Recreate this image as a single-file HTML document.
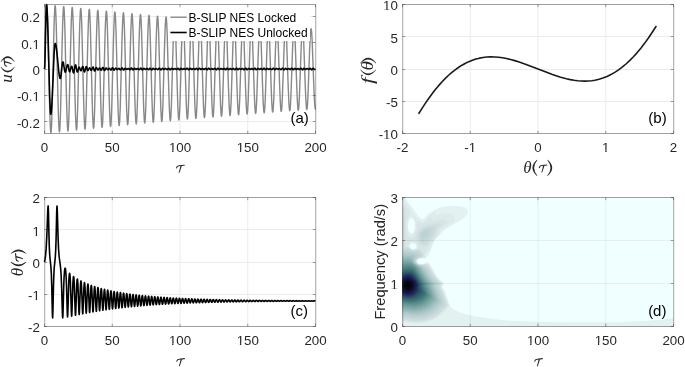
<!DOCTYPE html>
<html><head><meta charset="utf-8"><style>
html,body{margin:0;padding:0;background:#fff;}
svg{display:block;will-change:transform;}
</style></head><body>
<svg width="685" height="367" viewBox="0 0 685 367">
<rect width="685" height="367" fill="#fff"/>
<g font-family="Liberation Sans, sans-serif" font-size="13.33" fill="#262626">
<line x1="112.25" y1="4.5" x2="112.25" y2="133.5" stroke="#ebebeb" stroke-width="1"/>
<line x1="180.00" y1="4.5" x2="180.00" y2="133.5" stroke="#ebebeb" stroke-width="1"/>
<line x1="247.75" y1="4.5" x2="247.75" y2="133.5" stroke="#ebebeb" stroke-width="1"/>
<line x1="44.5" y1="121.50" x2="315.5" y2="121.50" stroke="#ebebeb" stroke-width="1"/>
<line x1="44.5" y1="95.50" x2="315.5" y2="95.50" stroke="#ebebeb" stroke-width="1"/>
<line x1="44.5" y1="69.50" x2="315.5" y2="69.50" stroke="#ebebeb" stroke-width="1"/>
<line x1="44.5" y1="42.50" x2="315.5" y2="42.50" stroke="#ebebeb" stroke-width="1"/>
<line x1="44.5" y1="16.50" x2="315.5" y2="16.50" stroke="#ebebeb" stroke-width="1"/>
<path d="M44.5,69L45.26,34.8 45.84,15.21 46.11,9.27 46.38,5.72 46.52,4.88 46.64,4.67 46.78,5.04 46.91,6.05 47.36,13.72 47.85,28.81 49.36,96.34 49.93,117.49 50.5,130.21 50.79,132.65 50.92,132.84 51.06,132.39 51.3,130 51.55,125.65 52.06,110.74 53.65,41.17 54.22,20.38 54.76,8.4 55.03,5.93 55.15,5.63 55.29,5.9 55.53,7.96 55.77,11.98 56.3,26.72 57.93,97.3 58.48,117.34 59.01,129 59.27,131.48 59.41,131.89 59.53,131.72 59.77,129.87 60.03,125.8 60.56,111.33 62.2,40.79 62.75,20.94 63.27,9.6 63.52,7.05 63.65,6.61 63.77,6.68 64.01,8.32 64.27,12.16 64.81,26.63 66.46,97.11 67.02,116.78 67.53,127.99 67.78,130.42 67.9,130.9 67.96,130.95 68.02,130.88 68.28,129.2 68.54,125.36 69.08,110.96 70.72,41.53 71.27,21.89 71.79,10.6 72.03,8.11 72.16,7.59 72.21,7.52 72.28,7.57 72.53,9.14 72.79,12.86 73.33,27.01 74.99,96.37 75.54,115.84 76.04,126.8 76.29,129.37 76.41,129.92 76.53,129.99 76.79,128.51 77.05,124.91 77.6,110.58 79.26,41.72 79.81,22.43 80.31,11.59 80.56,9.07 80.68,8.53 80.8,8.48 81.06,9.96 81.32,13.56 81.87,27.82 83.52,96.19 84.08,115.3 84.58,126.02 84.82,128.5 84.95,129.02 85.06,129.08 85.31,127.7 85.57,124.21 86.13,110.21 87.79,41.9 88.35,22.97 88.85,12.37 89.09,9.93 89.22,9.42 89.32,9.37 89.58,10.77 89.84,14.26 90.39,28.19 92.05,95.48 92.6,114.38 93.1,125.05 93.35,127.56 93.47,128.11 93.58,128.19 93.84,126.89 94.11,123.28 94.66,109.41 96.32,42.61 96.87,23.88 97.37,13.33 97.62,10.86 97.74,10.33 97.85,10.26 98.1,11.57 98.36,14.94 98.92,28.55 100.58,95.3 101.14,113.86 101.64,124.29 101.88,126.72 102.01,127.23 102.11,127.3 102.37,125.97 102.63,122.6 103.19,109.05 104.85,42.79 105.41,24.4 105.9,14.27 106.14,11.79 106.26,11.23 106.37,11.13 106.63,12.36 106.9,15.85 107.45,29.34 109.12,95.12 109.68,113.34 110.16,123.36 110.41,125.8 110.53,126.34 110.64,126.43 110.89,125.18 111.17,121.7 111.72,108.28 113.39,42.97 113.94,24.91 114.43,15.01 114.68,12.61 114.8,12.08 114.91,12 115.16,13.26 115.42,16.52 115.98,29.69 117.64,94.44 118.2,112.47 118.69,122.43 118.93,124.9 119.05,125.46 119.16,125.58 119.42,124.41 119.69,121.04 120.24,107.92 121.91,43.65 122.47,25.78 122.95,15.93 123.2,13.5 123.32,12.96 123.43,12.85 123.69,14.03 123.96,17.4 124.51,30.46 126.18,94.27 126.73,111.97 127.22,121.71 127.47,124.1 127.59,124.63 127.7,124.72 127.95,123.53 128.23,120.17 128.78,107.17 130.43,44.31 130.99,26.63 131.48,16.83 131.72,14.38 131.84,13.82 131.95,13.69 132.21,14.79 132.48,18.05 133.04,30.8 134.7,93.6 135.26,111.12 135.75,120.82 135.99,123.22 136.11,123.77 136.22,123.89 136.48,122.78 136.75,119.52 137.3,106.83 138.97,44.48 139.53,27.12 140.01,17.54 140.26,15.17 140.38,14.63 140.49,14.52 140.75,15.65 141.02,18.9 141.57,31.54 143.24,93.44 143.79,110.64 144.28,120.11 144.53,122.44 144.65,122.97 144.76,123.07 145.01,121.92 145.28,118.68 145.84,106.09 147.51,44.64 148.06,27.61 148.55,18.23 148.78,16.02 148.9,15.47 149.01,15.34 149.27,16.39 149.54,19.53 150.1,31.88 151.78,93.27 152.33,110.15 152.82,119.42 153.05,121.6 153.17,122.14 153.28,122.26 153.54,121.19 153.81,118.05 154.36,105.76 156.03,45.28 156.59,28.42 157.07,19.09 157.32,16.78 157.44,16.25 157.55,16.14 157.81,17.22 158.08,20.36 158.63,32.6 160.3,92.64 160.85,109.34 161.34,118.57 161.59,120.84 161.71,121.36 161.82,121.46 162.07,120.37 162.34,117.23 162.9,105.05 164.57,45.44 165.12,28.89 165.61,19.77 165.84,17.61 166.07,16.93 166.33,17.94 166.6,20.97 167.15,32.93 168.83,92.48 169.39,108.88 169.88,117.89 170.11,120.02 170.23,120.55 170.34,120.68 170.6,119.65 170.87,116.62 171.42,104.72 173.1,45.6 173.66,29.35 174.15,20.44 174.38,18.35 174.5,17.83 174.61,17.72 174.86,18.75 175.14,21.78 175.69,33.62 177.36,91.87 177.91,108.09 178.4,117.06 178.65,119.29 178.77,119.79 178.88,119.9 179.13,118.85 179.4,115.82 179.96,104.03 181.63,46.21 182.18,30.13 182.67,21.26 182.9,19.16 183.13,18.48 183.39,19.44 183.66,22.37 184.21,33.94 185.89,91.71 186.45,107.64 186.94,116.41 187.17,118.49 187.4,119.14 187.66,118.16 187.93,115.24 188.48,103.72 190.16,46.37 190.72,30.58 191.21,21.91 191.44,19.87 191.56,19.36 191.67,19.24 191.92,20.23 192.2,23.15 192.75,34.62 194.42,91.12 194.97,106.88 195.46,115.61 195.7,117.78 195.83,118.27 195.93,118.38 196.19,117.38 196.46,114.46 197.02,103.05 198.69,46.96 199.24,31.34 199.73,22.71 199.96,20.65 200.19,19.98 200.45,20.9 200.72,23.73 201.27,34.93 202.95,90.97 203.51,106.44 204,114.98 204.23,117 204.46,117.65 204.72,116.71 204.99,113.89 205.54,102.74 207.22,47.11 207.78,31.77 208.27,23.34 208.5,21.34 208.73,20.72 208.98,21.67 209.25,24.49 209.81,35.59 211.49,90.82 212.05,106.01 212.53,114.35 212.76,116.31 212.89,116.8 212.99,116.91 213.25,115.96 213.52,113.14 214.08,102.09 215.74,47.68 216.3,32.51 216.79,24.11 217.02,22.1 217.25,21.44 217.51,22.32 217.78,25.05 218.35,36.24 220.01,90.25 220.57,105.28 221.06,113.58 221.29,115.56 221.52,116.2 221.77,115.31 222.05,112.58 222.6,101.79 224.28,47.82 224.84,32.93 225.32,24.72 225.56,22.77 225.79,22.16 226.04,23.06 226.31,25.79 226.87,36.53 228.55,90.1 229.11,104.86 229.59,112.98 229.82,114.89 230.05,115.49 230.31,114.57 230.58,111.85 231.14,101.15 232.82,47.97 233.37,33.34 233.86,25.32 234.09,23.44 234.21,22.97 234.32,22.86 234.58,23.79 234.85,26.51 235.41,37.16 237.07,89.55 237.63,104.16 238.12,112.23 238.35,114.16 238.58,114.79 238.83,113.94 239.11,111.31 239.67,100.53 241.34,48.52 241.9,34.05 242.38,26.06 242.61,24.16 242.84,23.55 243.1,24.41 243.37,27.05 243.93,37.45 245.61,89.41 246.16,103.75 246.65,111.65 246.88,113.52 247.11,114.11 247.37,113.23 247.64,110.6 248.2,100.25 249.88,48.66 250.43,34.45 250.92,26.64 251.15,24.8 251.27,24.34 251.38,24.23 251.64,25.12 251.91,27.75 252.47,38.06 254.15,89.28 254.69,103.07 255.18,110.92 255.41,112.81 255.64,113.43 255.89,112.62 256.16,110.08 256.73,99.64 258.4,49.19 258.96,35.13 259.44,27.36 259.67,25.51 259.9,24.9 260.16,25.73 260.43,28.27 261,38.66 262.67,88.75 263.22,102.67 263.71,110.36 263.94,112.18 264.17,112.76 264.43,111.93 264.7,109.39 265.26,99.36 266.94,49.32 267.49,35.52 267.98,27.93 268.21,26.13 268.44,25.57 268.7,26.41 268.97,28.95 269.52,38.93 271.21,88.61 271.76,102.28 272.25,109.8 272.48,111.56 272.6,112 272.71,112.11 272.97,111.25 273.24,108.71 273.79,98.78 275.46,49.84 276.02,36.18 276.5,28.62 276.73,26.81 276.96,26.22 277.22,27 277.49,29.46 278.06,39.51 279.73,88.1 280.28,101.63 280.77,109.1 281,110.88 281.23,111.46 281.49,110.66 281.76,108.21 282.32,98.51 284,49.97 284.55,36.56 285.04,29.17 285.27,27.42 285.5,26.86 285.76,27.67 286.03,30.12 286.58,39.78 288.26,87.97 288.82,101.25 289.31,108.56 289.54,110.28 289.77,110.82 290.03,110 290.3,107.56 290.85,97.94 292.53,50.09 293.07,37.2 293.56,29.85 293.79,28.08 294.02,27.49 294.28,28.24 294.55,30.61 295.12,40.34 296.79,87.47 297.34,100.62 297.83,107.89 298.06,109.63 298.29,110.2 298.55,109.44 298.82,107.07 299.39,97.38 301.06,50.59 301.61,37.57 302.1,30.38 302.33,28.66 302.56,28.11 302.82,28.89 303.09,31.25 303.64,40.6 305.32,87.35 305.88,100.25 306.37,107.36 306.6,109.05 306.83,109.58 307.09,108.8 307.36,106.43 307.91,97.12 309.59,50.71 310.15,37.93 310.64,30.9 310.87,29.24 311.1,28.73 311.35,29.52 311.62,31.88 312.18,41.15 313.87,87.58 314.44,100.39 314.99,107.54 315.24,108.85 315.36,108.97 315.5,108.72" stroke="#888" stroke-width="1.4" fill="none" stroke-linejoin="round"/>
<path d="M44.5,69L44.72,67.21 44.95,61.61 46,14.78 46.28,7.15 46.41,5.2 46.53,4.63 46.76,5.42 46.99,7.75 47.47,17.11 48.02,34.44 49.7,97.34 50.26,109.98 50.53,113.19 50.79,114.28 51.02,113.86 51.26,112.39 51.76,106.26 52.33,95.18 54.07,54.51 54.65,46.21 54.92,44.19 55.19,43.46 55.46,43.69 55.73,44.41 56.3,47.44 56.95,52.96 58.92,72.98 59.58,77.1 59.89,78.12 60.2,78.48 60.35,78.38 60.5,78.03 60.81,76.57 62.24,64.41 62.59,62.52 62.77,62.04 62.93,61.89 63.19,62.21 63.46,63.17 64.59,70.34 64.87,71.53 65.12,72.1 65.26,72.16 65.42,72.05 65.73,71.39 67.05,65.69 67.37,64.8 67.68,64.53 67.9,64.78 68.13,65.51 69.04,70.42 69.45,71.71 69.57,71.81 69.7,71.77 70,71.3 71.14,67.12 71.42,66.48 71.68,66.32 71.91,66.6 72.16,67.36 73.14,72.08 73.36,72.64 73.56,72.82 73.77,72.61 73.98,71.94 75,66.13 75.26,65.2 75.5,64.89 75.71,65.11 75.91,65.73 76.86,70.9 77.1,71.74 77.33,72.01 77.55,71.85 77.77,71.38 78.63,68.13 79.03,67.24 79.26,67.18 79.51,67.48 80.5,70.23 80.75,70.65 80.98,70.76 81.19,70.57 81.42,70.07 82.33,67.03 82.53,66.64 82.74,66.5 82.93,66.66 83.12,67.11 84.03,71.05 84.26,71.68 84.47,71.88 84.69,71.68 84.92,71.08 85.84,67.21 86.03,66.77 86.22,66.62 86.41,66.74 86.6,67.08 87.48,69.92 87.7,70.37 87.91,70.54 88.29,70.23 89.2,68.24 89.42,67.94 89.64,67.84 89.85,67.95 90.07,68.25 90.98,70.25 91.21,70.47 91.42,70.46 91.79,69.84 92.62,67.42 92.85,67.07 93.06,67.02 93.46,67.72 94.27,70.5 94.46,70.88 94.65,71.02 94.84,70.91 95.04,70.57 95.85,68.13 96.25,67.51 96.46,67.54 96.68,67.78 97.48,69.5 97.83,69.95 98.05,69.97 98.28,69.81 99.2,68.36 99.42,68.16 99.63,68.1 100.04,68.45 100.87,69.99 101.23,70.25 101.6,69.91 102.44,67.88 102.66,67.54 102.86,67.43 103.04,67.51 103.23,67.79 104.07,70.03 104.27,70.37 104.47,70.5 104.66,70.42 104.85,70.18 105.65,68.37 106.03,67.93 106.23,67.95 106.44,68.11 107.28,69.43 107.67,69.73 108.1,69.52 109.01,68.38 109.24,68.26 109.45,68.28 109.78,68.61 110.53,69.81 110.92,70.05 111.13,69.95 111.33,69.68 112.16,67.98 112.51,67.71 112.86,67.99 113.69,69.81 113.89,70.1 114.09,70.21 114.46,69.96 115.26,68.49 115.62,68.14 116.03,68.29 116.86,69.36 117.25,69.6 117.67,69.42 118.55,68.47 118.98,68.38 119.32,68.66 120.07,69.71 120.45,69.91 120.85,69.59 121.67,68.12 122.02,67.88 122.22,67.97 122.43,68.22 123.25,69.81 123.59,70.04 123.94,69.83 124.76,68.53 125.16,68.24 125.52,68.39 126.31,69.32 126.71,69.53 127.13,69.37 128.01,68.53 128.43,68.45 128.75,68.69 129.53,69.65 129.95,69.8 130.31,69.48 131.07,68.23 131.44,67.99 131.78,68.21 132.59,69.64 133,69.96 133.35,69.76 134.16,68.55 134.55,68.29 134.91,68.43 135.71,69.3 136.1,69.5 136.5,69.35 137.39,68.57 137.81,68.5 138.13,68.72 138.89,69.59 139.31,69.73 139.66,69.45 140.43,68.28 140.79,68.07 141.14,68.28 141.95,69.63 142.34,69.91 142.71,69.7 143.47,68.6 143.84,68.32 144.23,68.44 145.05,69.3 145.43,69.48 145.84,69.34 146.71,68.61 147.13,68.53 147.45,68.74 148.2,69.53 148.56,69.68 148.96,69.44 149.77,68.29 150.11,68.12 150.45,68.32 151.26,69.61 151.65,69.88 152.02,69.69 152.78,68.6 153.14,68.32 153.55,68.45 154.31,69.25 154.63,69.46 155.05,69.39 155.92,68.68 156.33,68.55 156.71,68.72 157.51,69.51 157.86,69.64 158.25,69.41 159.05,68.33 159.39,68.16 159.74,68.36 160.54,69.6 160.94,69.87 161.3,69.68 162.06,68.59 162.43,68.31 162.83,68.44 163.59,69.26 163.92,69.47 164.34,69.4 165.19,68.7 165.6,68.57 165.98,68.73 166.78,69.48 167.13,69.6 167.47,69.43 168.27,68.41 168.66,68.19 169.01,68.39 169.81,69.61 170.2,69.87 170.57,69.67 171.33,68.57 171.69,68.29 172.1,68.43 172.85,69.26 173.18,69.48 173.59,69.41 174.44,68.72 174.85,68.58 175.24,68.74 176.03,69.44 176.38,69.56 176.72,69.4 177.52,68.43 177.91,68.22 178.25,68.4 179.07,69.61 179.46,69.87 179.8,69.68 180.61,68.51 181,68.26 181.37,68.43 182.1,69.28 182.44,69.5 182.85,69.43 183.7,68.72 184.09,68.58 184.49,68.73 185.28,69.42 185.62,69.53 186.02,69.33 186.84,68.38 187.22,68.26 187.59,68.54 188.35,69.66 188.7,69.86 189.09,69.62 189.91,68.42 190.24,68.24 190.58,68.39 191.38,69.34 191.77,69.54 192.13,69.43 192.91,68.74 193.31,68.58 193.71,68.72 194.55,69.41 194.96,69.49 195.3,69.27 196.06,68.43 196.46,68.29 196.83,68.56 197.59,69.66 197.94,69.85 198.28,69.67 199.08,68.47 199.47,68.22 199.81,68.37 200.62,69.37 201.02,69.57 201.35,69.46 202.15,68.74 202.53,68.58 202.94,68.71 203.79,69.39 204.2,69.46 204.54,69.25 205.28,68.46 205.69,68.33 206.06,68.59 206.82,69.65 207.17,69.84 207.51,69.65 208.31,68.45 208.7,68.19 209.05,68.36 209.84,69.38 210.23,69.6 210.58,69.49 211.38,68.73 211.76,68.57 212.17,68.7 213.02,69.37 213.44,69.43 213.77,69.24 214.51,68.49 214.93,68.36 215.28,68.62 216.04,69.65 216.4,69.83 216.73,69.64 217.53,68.44 217.93,68.18 218.29,68.36 219.05,69.38 219.4,69.63 219.81,69.51 220.57,68.76 220.89,68.57 221.31,68.64 222.17,69.31 222.57,69.43 222.95,69.26 223.74,68.51 224.09,68.39 224.48,68.61 225.28,69.65 225.62,69.81 225.96,69.62 226.76,68.42 227.15,68.16 227.52,68.36 228.28,69.41 228.63,69.66 229.04,69.54 229.8,68.75 230.12,68.55 230.54,68.62 231.38,69.29 231.79,69.42 232.17,69.26 232.97,68.54 233.32,68.42 233.71,68.65 234.5,69.62 234.84,69.79 235.18,69.6 235.99,68.4 236.38,68.15 236.72,68.33 237.52,69.46 237.91,69.7 238.28,69.55 239.01,68.74 239.35,68.52 239.76,68.59 240.61,69.28 241,69.41 241.4,69.26 242.19,68.57 242.53,68.46 242.93,68.66 243.74,69.62 244.12,69.75 244.48,69.48 245.24,68.35 245.6,68.15 245.93,68.32 246.75,69.49 247.14,69.74 247.48,69.59 248.28,68.68 248.67,68.48 249.01,68.58 249.82,69.27 250.22,69.41 250.61,69.27 251.45,68.57 251.86,68.5 252.19,68.72 252.94,69.58 253.35,69.72 253.71,69.45 254.47,68.34 254.82,68.15 255.16,68.33 255.96,69.51 256.35,69.77 256.69,69.62 257.51,68.65 257.9,68.45 258.24,68.56 259.04,69.26 259.43,69.41 259.82,69.28 260.68,68.6 261.08,68.53 261.41,68.73 262.17,69.56 262.57,69.69 262.93,69.43 263.68,68.35 264.04,68.15 264.38,68.34 265.19,69.54 265.58,69.79 265.92,69.63 266.72,68.63 267.11,68.41 267.47,68.53 268.25,69.26 268.63,69.42 269.04,69.3 269.9,68.62 270.31,68.56 270.64,68.75 271.39,69.54 271.8,69.65 272.15,69.39 272.91,68.35 273.26,68.17 273.6,68.36 274.4,69.55 274.8,69.81 275.15,69.64 275.93,68.61 276.33,68.38 276.71,68.52 277.44,69.24 277.76,69.42 278.18,69.35 279.02,68.69 279.43,68.56 279.81,68.73 280.62,69.51 281.02,69.62 281.37,69.38 282.13,68.37 282.48,68.18 282.83,68.38 283.62,69.56 284.01,69.83 284.36,69.66 285.16,68.58 285.55,68.34 285.92,68.49 286.65,69.25 286.98,69.44 287.4,69.37 288.25,68.7 288.66,68.58 289.04,68.74 289.82,69.47 290.18,69.59 290.57,69.37 291.38,68.35 291.76,68.21 292.13,68.49 292.89,69.63 293.24,69.84 293.59,69.66 294.38,68.56 294.77,68.31 295.13,68.46 295.87,69.25 296.2,69.47 296.61,69.4 297.46,68.72 297.87,68.59 298.25,68.74 299.05,69.44 299.39,69.56 299.78,69.35 300.61,68.37 300.99,68.24 301.35,68.52 302.11,69.65 302.45,69.85 302.8,69.67 303.6,68.52 303.98,68.28 304.33,68.42 305.13,69.31 305.51,69.51 305.87,69.41 306.68,68.73 307.07,68.59 307.46,68.73 308.3,69.44 308.71,69.51 309.05,69.29 309.78,68.43 310.13,68.26 310.49,68.44 311.27,69.59 311.64,69.85 312.02,69.67 312.79,68.53 313.16,68.25 313.56,68.4 314.31,69.29 314.63,69.52 314.89,69.5 315.5,69" stroke="#000" stroke-width="1.6" fill="none" stroke-linejoin="round"/>
<rect x="168" y="5" width="142" height="36" fill="#fff"/>
<line x1="170.4" y1="17.2" x2="186.7" y2="17.2" stroke="#888" stroke-width="1.4"/>
<line x1="170.4" y1="32.5" x2="186.7" y2="32.5" stroke="#000" stroke-width="1.6"/>
<text x="188.4" y="22" fill="#000" font-size="12">B-SLIP NES Locked</text>
<text x="188.4" y="37" fill="#000" font-size="12">B-SLIP NES Unlocked</text>
<path d="M44.0,4.5H316.0M44.0,133.5H316.0" stroke="#262626" stroke-opacity="0.44" stroke-width="1" fill="none"/>
<path d="M44.5,5.0V133.0M315.5,5.0V133.0" stroke="#262626" stroke-opacity="0.32" stroke-width="1" fill="none"/>
<path d="M45.5,5.0V133.0M316.5,5.0V133.0" stroke="#000" stroke-opacity="0.08" stroke-width="1" fill="none"/>
<path d="M44.50,133.5v-2.7M44.50,4.5v2.7M112.25,133.5v-2.7M112.25,4.5v2.7M180.00,133.5v-2.7M180.00,4.5v2.7M247.75,133.5v-2.7M247.75,4.5v2.7M315.50,133.5v-2.7M315.50,4.5v2.7M44.5,121.50h2.7M315.5,121.50h-2.7M44.5,95.50h2.7M315.5,95.50h-2.7M44.5,69.50h2.7M315.5,69.50h-2.7M44.5,42.50h2.7M315.5,42.50h-2.7M44.5,16.50h2.7M315.5,16.50h-2.7" stroke="#262626" stroke-opacity="0.44" stroke-width="1" fill="none"/>
<text x="44.50" y="151.70" text-anchor="middle">0</text>
<text x="112.25" y="151.70" text-anchor="middle">50</text>
<text x="180.00" y="151.70" text-anchor="middle">100</text>
<text x="247.75" y="151.70" text-anchor="middle">150</text>
<text x="315.50" y="151.70" text-anchor="middle">200</text>
<text x="39.90" y="127.55" text-anchor="end">-0.2</text>
<text x="39.90" y="101.23" text-anchor="end">-0.1</text>
<text x="39.90" y="74.90" text-anchor="end">0</text>
<text x="39.90" y="48.57" text-anchor="end">0.1</text>
<text x="39.90" y="22.25" text-anchor="end">0.2</text>
<text x="299.6" y="122.7" text-anchor="middle" fill="#000" font-size="15">(a)</text>
<line x1="470.25" y1="4.5" x2="470.25" y2="133.5" stroke="#ebebeb" stroke-width="1"/>
<line x1="538.00" y1="4.5" x2="538.00" y2="133.5" stroke="#ebebeb" stroke-width="1"/>
<line x1="605.75" y1="4.5" x2="605.75" y2="133.5" stroke="#ebebeb" stroke-width="1"/>
<line x1="402.5" y1="101.50" x2="673.5" y2="101.50" stroke="#ebebeb" stroke-width="1"/>
<line x1="402.5" y1="69.50" x2="673.5" y2="69.50" stroke="#ebebeb" stroke-width="1"/>
<line x1="402.5" y1="36.50" x2="673.5" y2="36.50" stroke="#ebebeb" stroke-width="1"/>
<path d="M418.96,113.29L422.52,107.59 425.79,102.63 429.05,97.92 432.31,93.48 435.57,89.3 438.84,85.39 442.1,81.74 445.36,78.36 448.62,75.24 451.89,72.38 455.15,69.79 458.71,67.25 461.97,65.18 465.53,63.21 468.79,61.65 472.35,60.22 475.91,59.06 479.47,58.16 483.03,57.51 486.89,57.06 490.74,56.89 494.6,56.95 498.45,57.25 502.61,57.81 506.46,58.52 510.62,59.49 514.77,60.62 519.22,62.01 523.37,63.43 528.11,65.16 545.32,71.86 552.44,74.51 559.85,76.96 566.38,78.76 570.23,79.62 574.09,80.3 577.65,80.76 581.21,81.04 584.77,81.12 588.03,81.01 591.59,80.68 594.85,80.18 599,79.24 602.86,78.06 607.01,76.43 610.87,74.58 614.72,72.4 618.58,69.87 622.44,66.98 626,64 629.85,60.42 633.41,56.79 636.97,52.84 640.83,48.2 644.39,43.6 648.24,38.25 652.1,32.54 655.95,26.48" stroke="#1a1a1a" stroke-width="1.6" fill="none" stroke-linejoin="round" stroke-linecap="round"/>
<path d="M402.0,4.5H674.0M402.0,133.5H674.0" stroke="#262626" stroke-opacity="0.44" stroke-width="1" fill="none"/>
<path d="M402.5,5.0V133.0M673.5,5.0V133.0" stroke="#262626" stroke-opacity="0.32" stroke-width="1" fill="none"/>
<path d="M403.5,5.0V133.0M674.5,5.0V133.0" stroke="#000" stroke-opacity="0.08" stroke-width="1" fill="none"/>
<path d="M402.50,133.5v-2.7M402.50,4.5v2.7M470.25,133.5v-2.7M470.25,4.5v2.7M538.00,133.5v-2.7M538.00,4.5v2.7M605.75,133.5v-2.7M605.75,4.5v2.7M673.50,133.5v-2.7M673.50,4.5v2.7M402.5,133.50h2.7M673.5,133.50h-2.7M402.5,101.50h2.7M673.5,101.50h-2.7M402.5,69.50h2.7M673.5,69.50h-2.7M402.5,36.50h2.7M673.5,36.50h-2.7M402.5,4.50h2.7M673.5,4.50h-2.7" stroke="#262626" stroke-opacity="0.44" stroke-width="1" fill="none"/>
<text x="402.50" y="151.70" text-anchor="middle">-2</text>
<text x="470.25" y="151.70" text-anchor="middle">-1</text>
<text x="538.00" y="151.70" text-anchor="middle">0</text>
<text x="605.75" y="151.70" text-anchor="middle">1</text>
<text x="673.50" y="151.70" text-anchor="middle">2</text>
<text x="397.90" y="139.40" text-anchor="end">-10</text>
<text x="397.90" y="107.15" text-anchor="end">-5</text>
<text x="397.90" y="74.90" text-anchor="end">0</text>
<text x="397.90" y="42.65" text-anchor="end">5</text>
<text x="397.90" y="10.40" text-anchor="end">10</text>
<text x="657.5" y="122.7" text-anchor="middle" fill="#000" font-size="15">(b)</text>
<line x1="112.25" y1="197.5" x2="112.25" y2="326.5" stroke="#ebebeb" stroke-width="1"/>
<line x1="180.00" y1="197.5" x2="180.00" y2="326.5" stroke="#ebebeb" stroke-width="1"/>
<line x1="247.75" y1="197.5" x2="247.75" y2="326.5" stroke="#ebebeb" stroke-width="1"/>
<line x1="44.5" y1="294.50" x2="315.5" y2="294.50" stroke="#ebebeb" stroke-width="1"/>
<line x1="44.5" y1="262.50" x2="315.5" y2="262.50" stroke="#ebebeb" stroke-width="1"/>
<line x1="44.5" y1="229.50" x2="315.5" y2="229.50" stroke="#ebebeb" stroke-width="1"/>
<path d="M44.5,262L45.08,258.86 45.51,255.9 46.2,248.16 46.78,236.77 47.75,210.6 47.99,206.83 48.1,206.05 48.16,205.95 48.21,206.1 48.44,211.48 49,236.58 49.35,247.9 49.8,256.23 50.87,266.46 51.32,273.46 51.74,285.69 52.38,313.64 52.52,317.19 52.65,317.99 52.89,312.69 53.44,287.6 53.78,276.22 54.22,267.76 55.27,257.46 55.71,250.39 56.11,238.04 56.72,210.52 56.97,205.94 57.13,207.2 57.3,210.93 58.05,236.68 58.5,247.96 59.09,256.26 60.46,266.48 61.05,273.64 61.58,285.79 62.39,313.29 62.55,316.75 62.71,317.93 62.86,316.74 63.01,313.11 63.66,288.38 64.06,277.56 64.54,270.6 64.82,268.8 64.97,268.33 65.11,268.17 65.26,268.31 65.41,268.76 65.69,270.5 66.18,277.29 66.58,287.84 67.25,312.28 67.4,315.76 67.55,316.98 67.7,315.89 67.86,312.35 68.81,281.15 69.19,275.31 69.39,273.82 69.59,273.33 69.79,273.82 69.99,275.23 70.36,280.87 71.34,311.53 71.5,314.96 71.65,316.11 71.8,315.02 71.97,311.66 72.89,283.31 73.22,278.25 73.39,276.98 73.56,276.53 73.74,276.96 73.91,278.2 74.24,283.12 75.17,310.72 75.34,314.15 75.5,315.29 75.65,314.27 75.82,310.96 76.72,284.93 77.02,280.45 77.18,279.33 77.33,278.96 77.49,279.34 77.64,280.4 77.94,284.76 78.85,310.29 79.02,313.48 79.17,314.53 79.33,313.57 79.5,310.48 80.38,286.27 80.66,282.27 80.81,281.28 80.95,280.94 81.09,281.26 81.23,282.22 81.52,286.11 82.41,309.72 82.58,312.76 82.74,313.82 82.89,312.92 83.06,310.02 83.93,287.5 84.2,283.84 84.34,282.93 84.47,282.62 84.6,282.89 84.74,283.76 85.01,287.28 85.88,309.24 86.06,312.2 86.22,313.14 86.38,312.19 86.55,309.39 87.4,288.57 87.66,285.17 87.79,284.35 87.92,284.08 88.05,284.35 88.18,285.17 88.44,288.42 89.3,308.87 89.47,311.63 89.64,312.51 89.8,311.61 89.97,308.99 90.81,289.5 91.06,286.4 91.19,285.61 91.31,285.36 91.55,286.32 91.8,289.3 92.66,308.45 92.83,311.06 93,311.9 93.16,311.09 93.33,308.54 94.17,290.29 94.41,287.45 94.65,286.5 94.89,287.38 95.13,290.13 95.98,308.07 96.15,310.53 96.32,311.33 96.48,310.59 96.65,308.22 97.49,291.01 97.72,288.39 97.95,287.53 98.19,288.35 98.42,290.9 99.26,307.71 99.44,310.02 99.61,310.79 99.77,310.06 99.95,307.8 100.77,291.67 101,289.26 101.23,288.46 101.45,289.21 101.68,291.53 102.52,307.39 102.7,309.56 102.87,310.28 103.03,309.59 103.21,307.48 104.03,292.27 104.26,290.05 104.48,289.31 104.7,290.02 104.92,292.17 105.75,306.94 105.93,309.09 106.1,309.8 106.27,309.12 106.44,307.12 107.26,292.86 107.49,290.76 107.7,290.08 107.92,290.77 108.14,292.77 108.96,306.71 109.15,308.7 109.32,309.33 109.49,308.68 109.66,306.78 110.48,293.32 110.7,291.42 110.91,290.79 111.12,291.41 111.34,293.29 112.16,306.36 112.34,308.27 112.51,308.9 112.68,308.33 112.86,306.49 113.68,293.79 113.89,292.04 114.1,291.45 114.3,292.01 114.51,293.72 115.34,306.13 115.52,307.91 115.69,308.48 115.86,307.93 116.04,306.19 116.86,294.28 117.07,292.61 117.27,292.05 117.47,292.57 117.68,294.18 118.5,305.82 118.69,307.52 118.86,308.09 119.03,307.56 119.21,305.92 120.03,294.68 120.23,293.15 120.43,292.61 120.64,293.11 120.84,294.59 121.66,305.58 121.84,307.18 122.02,307.71 122.19,307.22 122.37,305.68 123.18,295.07 123.39,293.62 123.59,293.13 123.79,293.6 123.99,295 124.8,305.32 124.99,306.83 125.16,307.36 125.34,306.88 125.52,305.42 126.34,295.4 126.54,294.05 126.73,293.61 126.93,294.06 127.13,295.35 127.94,305.08 128.13,306.55 128.31,307.02 128.48,306.55 128.67,305.16 129.47,295.76 129.67,294.5 129.87,294.06 130.06,294.46 130.26,295.67 131.07,304.87 131.26,306.25 131.44,306.7 131.61,306.27 131.8,304.97 132.6,296.09 132.8,294.89 133,294.48 133.18,294.84 133.38,295.98 134.19,304.66 134.38,305.97 134.56,306.4 134.74,306 134.92,304.78 135.73,296.34 135.93,295.23 136.12,294.86 136.31,295.22 136.5,296.31 137.32,304.51 137.51,305.73 137.68,306.11 137.86,305.72 138.04,304.56 138.85,296.63 139.05,295.58 139.23,295.23 139.42,295.57 139.61,296.56 140.43,304.3 140.62,305.46 140.79,305.84 140.97,305.48 141.16,304.35 141.97,296.87 142.15,295.91 142.34,295.57 142.53,295.86 142.72,296.82 143.53,304.09 143.72,305.2 143.9,305.58 144.08,305.24 144.27,304.18 145.07,297.11 145.26,296.2 145.45,295.89 145.64,296.17 145.83,297.05 146.63,303.91 146.82,304.97 147.01,305.33 147.18,305.03 147.37,304.03 148.18,297.32 148.37,296.46 148.56,296.18 148.74,296.45 148.93,297.29 149.74,303.77 149.93,304.76 150.11,305.1 150.28,304.81 150.47,303.87 151.29,297.52 151.48,296.72 151.66,296.46 151.84,296.71 152.03,297.49 152.84,303.66 153.03,304.57 153.21,304.88 153.39,304.59 153.58,303.69 154.38,297.74 154.57,296.97 154.76,296.72 154.93,296.95 155.12,297.7 155.93,303.48 156.12,304.36 156.3,304.67 156.48,304.39 156.67,303.55 157.48,297.92 157.66,297.22 157.85,296.97 158.02,297.18 158.21,297.87 159.02,303.37 159.21,304.19 159.4,304.47 159.58,304.2 159.77,303.4 160.58,298.09 160.76,297.43 160.94,297.2 161.12,297.4 161.31,298.07 162.11,303.24 162.3,304.01 162.49,304.28 162.67,304.03 162.86,303.28 163.67,298.26 163.85,297.63 164.03,297.41 164.21,297.61 164.4,298.24 165.2,303.09 165.39,303.85 165.58,304.1 165.76,303.87 165.95,303.16 166.75,298.42 166.94,297.82 167.12,297.62 167.3,297.8 167.48,298.38 168.29,302.99 168.48,303.7 168.67,303.93 168.85,303.71 169.04,303.04 169.84,298.55 170.03,298 170.2,297.81 170.38,297.98 170.56,298.51 171.37,302.87 171.57,303.55 171.75,303.77 171.93,303.57 172.13,302.91 172.93,298.68 173.12,298.16 173.29,297.99 173.47,298.16 173.65,298.67 174.46,302.79 174.65,303.42 174.84,303.62 175.02,303.42 175.21,302.82 176.02,298.82 176.2,298.32 176.38,298.15 176.55,298.31 176.73,298.8 177.54,302.69 177.74,303.29 177.92,303.48 178.1,303.29 178.3,302.69 179.1,298.94 179.28,298.47 179.46,298.31 179.63,298.45 179.81,298.9 180.62,302.57 180.81,303.15 181,303.34 181.19,303.16 181.38,302.6 182.18,299.05 182.36,298.61 182.54,298.46 182.71,298.6 182.89,299.02 183.7,302.49 183.9,303.03 184.08,303.21 184.26,303.05 184.46,302.53 185.26,299.16 185.45,298.74 185.62,298.6 185.79,298.73 185.98,299.14 186.78,302.4 186.97,302.91 187.16,303.09 187.34,302.93 187.54,302.44 188.35,299.25 188.52,298.87 188.7,298.73 188.87,298.85 189.05,299.23 189.86,302.33 190.05,302.81 190.24,302.97 190.43,302.82 190.62,302.35 191.42,299.36 191.61,298.98 191.78,298.86 191.95,298.97 192.13,299.34 192.93,302.25 193.13,302.71 193.32,302.86 193.5,302.72 193.7,302.28 194.51,299.44 194.68,299.1 194.86,298.98 195.03,299.08 195.21,299.43 196.01,302.17 196.21,302.61 196.4,302.76 196.59,302.62 196.78,302.2 197.58,299.53 197.76,299.2 197.93,299.09 198.1,299.18 198.29,299.51 199.09,302.12 199.29,302.52 199.48,302.66 199.66,302.53 199.86,302.14 200.66,299.61 200.84,299.29 201.01,299.19 201.18,299.28 201.36,299.59 202.17,302.06 202.36,302.44 202.55,302.57 202.74,302.45 202.93,302.08 203.74,299.68 203.92,299.39 204.09,299.29 204.26,299.38 204.44,299.66 205.24,301.99 205.44,302.35 205.63,302.48 205.82,302.36 206.02,302 206.82,299.75 206.99,299.48 207.17,299.38 207.51,299.73 208.32,301.94 208.52,302.28 208.71,302.39 208.9,302.28 209.09,301.95 209.89,299.82 210.07,299.55 210.24,299.47 210.59,299.8 211.4,301.88 211.59,302.2 211.78,302.31 211.97,302.21 212.17,301.89 212.97,299.88 213.32,299.55 213.66,299.86 214.47,301.83 214.67,302.14 214.86,302.24 215.05,302.14 215.24,301.84 216.04,299.94 216.4,299.63 216.74,299.93 217.55,301.79 217.74,302.07 217.93,302.17 218.12,302.07 218.32,301.79 219.12,300 219.47,299.7 219.82,299.98 220.62,301.73 220.82,302.01 221.01,302.1 221.2,302.01 221.4,301.75 222.19,300.05 222.54,299.77 222.89,300.03 223.69,301.69 223.89,301.95 224.08,302.04 224.27,301.96 224.46,301.71 225.27,300.1 225.62,299.84 225.96,300.08 226.77,301.65 227.15,301.98 227.54,301.67 228.35,300.14 228.69,299.9 229.04,300.13 229.84,301.61 230.23,301.92 230.62,301.63 231.42,300.19 231.77,299.95 232.11,300.18 232.91,301.57 233.31,301.87 233.69,301.59 234.5,300.23 234.84,300.01 235.18,300.21 235.99,301.54 236.38,301.82 236.77,301.55 237.57,300.27 237.91,300.06 238.26,300.26 239.06,301.51 239.45,301.77 239.78,301.58 240.59,300.37 240.99,300.11 241.33,300.3 242.13,301.47 242.53,301.72 242.91,301.49 243.72,300.34 244.06,300.16 244.4,300.33 245.21,301.44 245.6,301.68 245.99,301.46 246.79,300.37 247.14,300.2 247.48,300.36 248.29,301.42 248.67,301.64 249,301.49 249.81,300.46 250.21,300.24 250.55,300.4 251.35,301.39 251.75,301.6 252.14,301.4 252.94,300.43 253.29,300.28 253.62,300.42 254.43,301.36 254.82,301.56 255.16,301.42 255.95,300.51 256.35,300.31 256.7,300.45 257.5,301.34 257.89,301.53 258.23,301.4 259.03,300.54 259.43,300.35 259.78,300.48 260.58,301.32 260.97,301.5 261.36,301.33 262.17,300.51 262.51,300.38 262.84,300.5 263.65,301.3 264.04,301.47 264.38,301.35 265.18,300.58 265.58,300.41 265.92,300.53 266.72,301.28 267.11,301.44 267.45,301.32 268.25,300.6 268.65,300.44 269,300.55 269.8,301.26 270.19,301.41 270.58,301.27 271.39,300.58 271.73,300.47 272.07,300.57 272.86,301.24 273.26,301.38 273.6,301.28 274.4,300.64 274.8,300.49 275.14,300.59 275.94,301.22 276.33,301.36 276.67,301.26 277.47,300.65 277.87,300.52 278.21,300.61 279.02,301.21 279.41,301.33 279.75,301.24 280.55,300.67 280.94,300.54 281.29,300.63 282.09,301.19 282.48,301.31 282.82,301.23 283.62,300.68 284.02,300.56 284.36,300.65 285.16,301.18 285.55,301.29 285.89,301.21 286.69,300.7 287.09,300.58 287.43,300.66 288.23,301.16 288.62,301.27 288.96,301.2 289.77,300.71 290.16,300.6 290.51,300.68 291.31,301.15 291.7,301.25 292.04,301.18 292.84,300.72 293.23,300.62 293.58,300.69 294.38,301.14 294.77,301.24 295.11,301.17 295.91,300.74 296.3,300.64 296.65,300.71 297.45,301.13 297.84,301.22 299.38,300.66 300.91,301.2 302.44,300.67 303.98,301.19 305.51,300.69 307.05,301.18 308.58,300.7 310.11,301.16 311.63,300.71 313.16,301.15 313.56,301.1 314.65,300.73 315.5,300.92" stroke="#000" stroke-width="1.6" fill="none" stroke-linejoin="round"/>
<path d="M44.0,197.5H316.0M44.0,326.5H316.0" stroke="#262626" stroke-opacity="0.44" stroke-width="1" fill="none"/>
<path d="M44.5,198.0V326.0M315.5,198.0V326.0" stroke="#262626" stroke-opacity="0.32" stroke-width="1" fill="none"/>
<path d="M45.5,198.0V326.0M316.5,198.0V326.0" stroke="#000" stroke-opacity="0.08" stroke-width="1" fill="none"/>
<path d="M44.50,326.5v-2.7M44.50,197.5v2.7M112.25,326.5v-2.7M112.25,197.5v2.7M180.00,326.5v-2.7M180.00,197.5v2.7M247.75,326.5v-2.7M247.75,197.5v2.7M315.50,326.5v-2.7M315.50,197.5v2.7M44.5,326.50h2.7M315.5,326.50h-2.7M44.5,294.50h2.7M315.5,294.50h-2.7M44.5,262.50h2.7M315.5,262.50h-2.7M44.5,229.50h2.7M315.5,229.50h-2.7M44.5,197.50h2.7M315.5,197.50h-2.7" stroke="#262626" stroke-opacity="0.44" stroke-width="1" fill="none"/>
<text x="44.50" y="344.70" text-anchor="middle">0</text>
<text x="112.25" y="344.70" text-anchor="middle">50</text>
<text x="180.00" y="344.70" text-anchor="middle">100</text>
<text x="247.75" y="344.70" text-anchor="middle">150</text>
<text x="315.50" y="344.70" text-anchor="middle">200</text>
<text x="39.90" y="332.40" text-anchor="end">-2</text>
<text x="39.90" y="300.15" text-anchor="end">-1</text>
<text x="39.90" y="267.90" text-anchor="end">0</text>
<text x="39.90" y="235.65" text-anchor="end">1</text>
<text x="39.90" y="203.40" text-anchor="end">2</text>
<text x="299.3" y="316.2" text-anchor="middle" fill="#000" font-size="15">(c)</text>
<rect x="402.5" y="197.5" width="271.0" height="129.0" fill="#ffffff"/>
<defs><clipPath id="clipD"><rect x="402.5" y="197.5" width="271" height="129"/></clipPath></defs><g clip-path="url(#clipD)"><path fill="rgb(240,255,255)" fill-rule="evenodd" d="M400.0,194.5 676.0,194.5 676.0,329.0 399.5,329.0 399.5,194.5 400.0,194.5Z"/><path fill="rgb(228,241,241)" fill-rule="evenodd" d="M400.0,194.5 405.2,194.5 405.3,197.0 406.9,200.5 417.3,214.5 420.3,218.0 422.0,219.2 422.5,219.2 423.5,218.7 425.4,217.0 427.9,214.0 432.5,210.9 437.5,208.5 443.5,206.8 446.5,206.3 451.5,205.9 456.0,205.9 460.5,206.4 463.0,207.0 465.0,207.8 466.5,209.0 467.5,210.5 467.9,212.0 467.8,213.5 467.0,215.0 465.5,216.6 460.0,220.7 452.0,225.2 445.0,229.8 442.5,231.9 438.4,236.5 435.5,239.1 434.0,241.5 431.2,249.5 428.5,255.4 427.5,256.8 426.5,257.1 426.4,258.0 426.0,258.4 425.0,258.6 422.0,258.3 420.1,258.5 418.0,259.4 417.3,260.0 416.9,261.0 417.0,262.0 417.7,263.0 418.5,263.5 420.0,264.1 423.0,264.0 424.4,263.5 426.5,262.2 427.5,261.9 428.5,262.5 429.4,263.5 432.3,268.0 433.8,271.0 438.4,278.0 440.0,279.7 442.7,281.5 443.7,282.5 443.9,283.5 442.1,287.0 444.5,290.5 445.5,292.6 449.9,305.5 451.4,307.5 452.5,308.5 456.0,310.7 460.5,312.6 468.0,314.7 475.0,316.2 487.5,318.2 504.5,320.2 531.5,321.8 547.0,322.1 578.0,322.3 617.5,322.2 639.0,321.2 661.0,319.7 671.5,318.6 672.3,318.5 672.0,318.0 672.5,317.5 676.0,317.4 676.0,329.0 399.5,329.0 399.5,194.5 400.0,194.5ZM411.2,218.5 410.0,219.2 408.9,221.0 408.2,223.5 408.0,226.5 408.3,229.0 409.1,231.5 410.3,233.0 411.5,233.5 412.5,233.1 413.0,232.6 414.0,231.0 414.7,228.5 414.9,225.5 414.7,223.0 413.9,220.5 412.5,218.8 411.2,218.5ZM411.9,243.5 411.0,244.0 410.1,245.0 409.6,247.0 410.4,247.5 411.5,248.7 412.5,249.1 414.0,249.1 416.2,248.0 416.3,246.0 415.5,244.5 414.5,243.7 413.5,243.3 411.9,243.5Z"/><path fill="rgb(221,235,235)" fill-rule="evenodd" d="M400.0,194.5 403.3,194.5 403.5,197.5 405.2,201.5 411.4,210.0 414.5,215.3 419.5,219.9 421.0,220.9 422.5,221.2 423.5,220.9 424.5,220.4 426.7,218.5 429.5,215.2 433.0,212.9 435.0,211.8 435.2,212.0 435.2,215.0 435.5,215.7 439.5,214.3 443.0,213.5 446.0,213.1 448.5,213.2 451.0,213.9 452.8,215.0 454.1,216.5 454.8,218.5 455.0,220.5 454.7,221.5 450.5,223.9 445.0,227.4 442.5,229.4 441.0,231.1 437.5,237.0 437.0,237.5 436.5,237.6 434.7,239.5 433.6,242.0 433.1,242.5 433.0,243.1 430.3,247.5 426.7,254.5 425.8,255.5 425.0,255.9 425.5,257.0 425.2,257.5 424.0,257.9 419.5,258.4 418.0,259.1 416.7,260.5 416.6,261.5 417.0,262.5 418.1,263.5 419.5,264.1 421.0,264.4 423.0,264.3 427.0,262.9 428.0,263.1 428.5,263.5 431.5,267.9 434.1,272.5 434.3,273.5 436.6,276.5 438.3,279.5 439.0,279.8 442.0,282.6 442.7,283.0 442.5,284.9 441.6,287.0 444.6,292.5 445.3,295.0 446.6,298.0 446.8,299.5 447.6,301.0 447.8,302.0 448.6,304.0 448.8,305.5 449.2,306.0 446.9,308.5 446.9,309.0 441.5,314.4 441.0,314.4 439.0,316.4 438.5,316.4 437.0,317.9 435.5,318.4 435.0,318.9 434.5,318.9 434.0,319.4 433.5,319.4 433.0,319.9 432.5,319.9 432.0,320.4 431.0,320.4 430.5,320.9 429.5,320.9 429.0,321.4 428.0,321.4 427.5,321.9 426.0,321.9 425.5,322.4 424.0,322.4 423.5,322.9 419.5,322.9 419.0,323.4 415.0,323.4 414.5,322.9 411.0,322.9 410.5,322.4 409.0,322.4 408.5,321.9 404.0,321.9 403.5,321.4 401.5,321.4 401.0,320.9 399.5,320.9 399.5,194.5 400.0,194.5ZM410.6,217.0 410.0,217.4 409.0,218.5 408.1,220.5 407.4,223.5 407.3,227.0 407.8,230.5 408.8,233.0 410.0,234.6 411.5,235.1 413.0,234.4 414.5,232.0 415.4,229.0 415.7,225.0 415.2,221.5 413.7,218.0 413.0,217.3 412.0,216.8 410.6,217.0ZM411.2,243.0 409.6,244.5 409.1,245.5 408.9,247.0 410.0,247.5 411.4,249.0 412.5,249.5 414.0,249.5 416.0,248.4 416.8,248.5 417.1,247.0 416.8,245.5 416.3,244.5 415.5,243.6 414.5,242.9 413.5,242.6 412.0,242.7 411.2,243.0Z"/><path fill="rgb(215,229,230)" fill-rule="evenodd" d="M400.0,194.5 401.0,194.5 401.2,198.0 403.1,202.5 409.0,210.5 410.3,213.0 410.4,214.0 409.5,214.6 408.5,215.6 407.1,218.5 406.3,222.0 406.1,225.5 406.3,230.0 407.1,233.5 408.3,236.0 410.0,237.7 411.5,238.0 412.5,237.6 414.0,236.0 415.1,234.0 416.1,231.0 416.8,228.0 417.0,225.0 416.8,222.0 417.0,221.6 421.0,223.2 422.5,223.3 424.1,223.0 426.0,222.0 427.8,220.5 431.0,216.9 431.5,221.5 438.0,219.7 442.5,219.3 444.5,219.6 446.0,220.4 446.9,221.5 447.4,223.0 442.4,226.5 441.0,227.7 439.5,229.5 436.3,236.0 428.6,246.5 424.0,254.5 423.9,255.0 424.6,256.0 424.5,256.7 423.5,257.4 420.5,257.9 418.5,258.5 417.1,259.5 416.5,260.5 416.4,261.5 417.0,262.8 418.0,263.7 419.5,264.3 422.5,264.6 426.5,263.7 428.0,264.2 430.5,267.6 434.1,274.0 437.8,279.5 442.0,283.0 442.3,283.5 440.9,287.0 444.1,293.0 448.4,306.0 445.9,309.0 442.5,312.5 439.5,315.1 436.0,317.6 430.0,320.3 423.5,322.0 418.5,322.6 414.0,322.5 408.0,321.4 403.4,321.0 399.5,320.1 399.5,194.5 400.0,194.5ZM411.0,241.5 410.0,242.1 408.7,243.5 407.8,245.5 407.6,247.0 409.4,247.5 410.7,249.0 412.5,249.8 414.0,249.8 417.0,248.7 417.5,249.1 417.9,249.0 418.3,247.5 418.1,246.0 417.6,244.5 416.5,243.0 415.0,241.9 413.5,241.3 412.0,241.2 411.0,241.5Z"/><path fill="rgb(209,223,224)" fill-rule="evenodd" d="M400.5,202.4 402.0,204.9 404.7,208.5 404.8,209.0 404.8,247.5 405.5,247.1 408.6,247.5 410.5,249.4 412.5,250.2 414.5,250.2 417.0,249.2 418.5,249.3 419.0,249.7 419.5,249.7 421.8,252.0 421.8,252.5 422.8,253.5 422.8,254.0 423.6,255.0 423.7,256.0 423.4,256.5 422.6,257.0 419.5,257.8 417.3,259.0 416.2,260.5 416.3,262.0 417.5,263.5 420.0,264.6 422.5,264.8 426.0,264.4 427.5,264.8 430.0,268.2 433.6,274.5 437.0,279.5 441.1,283.0 441.4,283.5 440.2,286.5 440.2,287.0 443.2,293.0 447.2,305.0 447.3,305.5 446.9,306.0 442.5,310.8 439.0,313.9 435.5,316.5 430.0,319.1 423.5,320.9 418.5,321.5 414.0,321.4 408.0,320.4 403.5,320.0 399.5,319.0 399.5,248.6 400.1,248.5 400.1,204.0 400.5,202.4ZM434.5,223.4 437.0,223.2 439.0,223.3 440.5,223.8 441.3,224.5 439.0,226.5 437.5,228.5 435.0,235.0 432.8,238.5 430.9,241.0 426.5,245.8 425.0,245.9 423.0,245.5 421.5,245.0 420.0,244.2 418.7,243.0 417.6,241.5 416.8,240.0 416.4,238.5 416.4,236.5 416.8,234.5 417.5,232.5 418.6,230.5 421.0,228.0 423.5,226.7 429.0,224.7 434.5,223.4Z"/><path fill="rgb(203,219,221)" fill-rule="evenodd" d="M401.5,208.0 403.5,210.7 403.7,211.5 403.8,248.5 404.0,248.6 405.5,247.5 406.5,247.6 408.0,248.1 410.5,249.9 412.0,250.5 414.0,250.7 418.0,250.0 419.5,250.4 420.5,251.0 422.6,254.5 422.7,255.5 422.5,256.0 422.0,256.5 419.0,257.7 416.9,259.0 415.9,260.5 416.0,262.0 417.2,263.5 419.5,264.7 422.0,265.0 425.5,265.0 426.9,265.5 429.5,269.0 432.7,274.5 436.1,279.5 440.5,283.5 439.3,286.5 439.4,287.0 441.5,291.0 442.6,293.5 446.1,304.5 446.1,305.0 445.3,306.0 441.6,310.0 438.2,313.0 434.8,315.5 432.5,316.8 429.0,318.2 423.0,319.9 418.5,320.4 414.0,320.4 411.0,320.0 408.0,319.3 403.5,318.9 399.5,317.9 399.5,249.0 400.0,248.9 401.0,249.6 401.2,249.5 401.2,209.0 401.5,208.0ZM432.0,226.0 435.0,226.0 435.5,226.0 436.1,226.5 434.9,229.0 433.6,234.0 432.2,237.0 430.0,239.9 425.5,244.1 425.0,244.4 424.0,244.2 421.5,243.2 420.0,242.1 419.1,241.0 418.0,238.5 417.9,235.5 418.5,233.5 419.3,232.0 420.9,230.0 422.8,228.5 427.5,226.8 432.0,226.0Z"/><path fill="rgb(198,216,218)" fill-rule="evenodd" d="M428.5,228.0 431.5,227.7 432.8,228.0 432.1,232.5 431.6,234.5 430.4,237.0 429.0,238.8 424.0,242.8 423.5,242.7 422.1,242.0 421.0,241.1 419.6,239.0 419.2,236.5 419.6,234.0 421.0,231.6 423.0,229.7 425.5,228.7 428.5,228.0ZM404.0,248.9 404.5,248.6 407.0,248.9 412.0,251.0 413.5,251.2 417.5,251.0 419.0,251.5 420.0,252.0 421.2,254.0 421.5,255.5 420.7,256.5 417.5,258.2 416.0,259.5 415.6,261.0 416.0,262.5 417.0,263.6 419.0,264.7 421.5,265.3 425.0,265.5 426.2,266.0 428.8,269.5 432.0,275.0 435.6,280.0 439.6,283.5 438.5,286.5 438.5,287.0 440.7,291.0 441.9,294.0 444.6,302.5 445.0,304.0 444.9,304.5 440.9,309.0 436.5,312.8 433.0,315.2 428.5,317.1 422.0,318.9 416.0,319.4 412.5,319.2 408.0,318.3 404.0,318.0 399.5,316.9 399.5,250.1 400.5,249.5 401.0,249.8 401.5,249.7 402.0,250.1 403.0,250.1 403.1,249.5 404.0,248.9Z"/><path fill="rgb(192,213,215)" fill-rule="evenodd" d="M427.5,229.4 429.5,229.2 430.1,229.5 429.8,233.5 429.2,235.5 428.3,237.0 427.0,238.3 423.0,240.9 422.5,240.7 421.3,239.5 420.5,237.5 420.4,236.0 420.9,234.0 422.0,232.2 423.5,230.7 425.0,230.1 427.5,229.4ZM403.5,249.7 408.0,250.2 412.5,251.7 417.0,252.0 419.5,253.1 420.3,254.5 420.3,255.5 419.5,256.5 417.0,258.1 415.7,259.5 415.3,261.0 415.8,262.5 417.0,263.9 418.5,264.7 420.5,265.3 424.5,266.0 425.6,266.5 428.8,271.0 431.3,275.5 434.6,280.0 438.7,283.5 437.6,286.5 437.7,287.0 440.4,292.5 443.9,303.5 441.0,307.1 436.5,311.3 432.5,314.1 428.5,315.9 422.0,317.8 416.0,318.3 412.5,318.1 408.0,317.2 404.0,316.9 399.5,315.8 399.5,251.4 401.5,250.2 402.0,250.4 403.0,250.3 403.5,249.7Z"/><path fill="rgb(188,210,211)" fill-rule="evenodd" d="M426.0,230.9 426.9,231.0 427.1,233.0 426.7,235.0 425.5,236.5 422.5,238.3 422.0,238.1 421.6,236.5 421.8,235.0 422.2,234.0 423.0,232.7 424.0,231.7 426.0,230.9ZM402.0,251.3 403.0,251.0 408.5,251.4 416.5,253.0 419.0,254.4 419.2,255.0 418.9,256.0 416.5,258.0 415.3,259.5 415.0,261.0 415.5,262.5 416.5,263.7 418.0,264.7 420.0,265.5 424.0,266.4 425.0,267.0 428.4,272.0 430.5,275.7 433.6,280.0 437.7,283.5 436.6,286.5 439.5,292.5 442.7,303.0 440.3,306.0 436.7,309.5 432.8,312.5 430.0,314.0 426.5,315.4 423.0,316.4 419.7,317.0 416.5,317.3 412.5,317.1 408.0,316.2 404.5,315.9 399.5,314.7 399.5,252.7 402.0,251.3Z"/><path fill="rgb(182,206,207)" fill-rule="evenodd" d="M402.5,252.5 407.5,252.4 410.0,252.7 415.0,253.7 416.5,254.4 417.3,255.0 417.6,255.5 417.5,256.0 415.5,258.3 414.9,259.5 414.6,261.0 415.2,262.5 416.5,264.0 417.5,264.7 420.0,265.7 423.0,266.6 424.4,267.5 428.0,272.9 429.7,276.0 433.0,280.5 436.6,283.5 435.6,286.5 437.7,290.5 438.5,292.5 441.6,302.5 438.6,306.0 435.4,309.0 431.5,311.9 429.0,313.2 425.6,314.5 422.5,315.4 419.0,316.0 416.0,316.2 412.5,316.0 408.0,315.2 404.5,314.9 399.5,313.6 399.5,254.0 402.5,252.5Z"/><path fill="rgb(177,202,202)" fill-rule="evenodd" d="M402.5,253.9 407.5,253.6 410.0,253.8 413.5,254.5 415.5,255.5 415.8,256.5 414.6,259.0 414.3,260.0 414.4,261.5 414.8,262.5 416.2,264.0 417.5,264.9 422.6,267.0 423.4,267.5 427.1,273.0 429.0,276.5 432.0,280.5 435.5,283.5 435.6,284.0 434.6,286.5 436.5,290.0 437.5,292.5 439.8,299.5 440.4,302.0 437.5,305.3 434.5,308.1 431.0,310.8 428.5,312.1 425.0,313.5 422.0,314.3 418.5,314.9 415.5,315.1 412.0,314.9 408.0,314.1 404.0,313.8 399.5,312.5 399.5,255.3 402.5,253.9Z"/><path fill="rgb(169,197,197)" fill-rule="evenodd" d="M405.5,255.0 408.0,254.9 410.5,255.0 412.5,255.5 414.0,256.4 414.3,257.5 413.9,259.5 413.9,261.0 414.9,263.0 417.0,264.8 421.4,267.0 422.8,268.0 424.0,270.1 426.7,274.0 428.0,276.5 431.0,280.5 434.4,283.5 434.5,284.0 433.6,286.5 435.5,290.0 436.5,292.5 439.0,300.0 439.2,301.0 439.1,301.5 435.5,305.5 431.5,308.9 429.0,310.6 424.5,312.4 419.0,313.8 414.0,314.0 404.0,312.7 399.5,311.4 399.5,256.6 402.5,255.3 405.5,255.0Z"/><path fill="rgb(161,191,191)" fill-rule="evenodd" d="M403.5,256.4 409.0,256.1 411.0,256.4 412.5,257.1 413.1,258.0 413.6,261.5 414.5,263.0 416.5,264.8 420.5,267.0 421.8,268.0 422.6,269.0 423.5,270.9 426.0,274.5 427.3,277.0 430.3,281.0 433.4,283.5 433.5,284.0 432.7,286.5 434.9,291.0 438.1,300.5 435.7,303.5 432.5,306.5 428.5,309.5 426.3,310.5 420.5,312.3 417.5,312.8 414.5,313.0 411.5,312.8 408.0,312.1 404.0,311.7 399.5,310.3 399.5,257.9 402.0,256.8 403.5,256.4Z"/><path fill="rgb(153,186,186)" fill-rule="evenodd" d="M405.0,257.5 407.5,257.3 409.5,257.4 411.0,257.8 412.0,258.5 413.2,261.5 414.1,263.0 416.0,264.7 419.7,267.0 421.3,268.5 422.9,271.5 425.1,274.5 426.7,277.5 429.3,281.0 432.3,283.5 432.5,284.0 431.7,286.5 433.9,291.0 436.9,300.0 433.9,303.5 430.5,306.5 427.5,308.6 424.0,310.1 418.5,311.6 413.5,311.9 404.0,310.6 399.5,309.2 399.5,259.2 402.5,258.0 405.0,257.5Z"/><path fill="rgb(145,180,180)" fill-rule="evenodd" d="M406.0,258.5 409.0,258.5 411.0,259.2 411.8,260.0 413.3,262.5 414.1,263.5 419.5,267.5 421.0,269.3 422.3,272.0 424.5,275.0 425.7,277.5 428.4,281.0 431.3,283.5 431.6,284.0 430.8,286.0 430.8,286.5 433.0,291.0 435.7,299.5 432.5,303.1 428.6,306.5 426.2,308.0 422.0,309.7 417.0,310.7 412.5,310.8 404.0,309.6 399.5,308.1 399.5,260.4 402.5,259.2 406.0,258.5Z"/><path fill="rgb(137,175,175)" fill-rule="evenodd" d="M407.0,259.5 409.0,259.6 410.5,260.1 414.1,264.0 418.8,267.5 420.3,269.5 421.8,272.5 423.6,275.0 425.2,278.0 427.9,281.5 430.5,283.8 430.7,284.0 429.9,286.0 430.0,286.5 431.9,290.5 434.6,298.5 434.6,299.0 432.5,301.5 428.0,305.5 425.0,307.3 420.5,309.0 416.0,309.8 412.0,309.8 404.0,308.6 399.5,307.1 399.5,261.6 403.0,260.1 407.0,259.5Z"/><path fill="rgb(129,169,169)" fill-rule="evenodd" d="M404.0,261.0 407.5,260.5 410.0,261.0 411.0,261.6 413.6,264.0 418.0,267.5 419.0,268.7 421.0,272.5 422.8,275.0 424.5,278.2 426.9,281.5 429.8,284.0 429.0,286.0 431.4,291.5 433.4,297.5 433.5,298.5 431.0,301.4 428.5,303.7 425.5,305.9 423.5,306.8 421.0,307.7 418.0,308.5 413.0,308.9 404.0,307.7 401.5,306.9 399.5,306.0 399.5,262.7 401.5,261.8 404.0,261.0Z"/><path fill="rgb(120,163,163)" fill-rule="evenodd" d="M404.5,261.9 407.5,261.6 410.0,262.0 415.0,265.5 416.7,267.0 418.4,269.0 420.5,273.0 422.0,275.0 423.9,278.5 426.1,281.5 428.9,284.0 428.1,286.0 430.4,291.0 432.5,297.5 432.4,298.0 430.0,300.7 427.5,303.0 425.0,304.8 422.5,306.0 417.5,307.5 412.5,307.9 404.0,306.7 401.5,305.9 399.5,305.0 399.5,263.9 402.0,262.7 404.5,261.9Z"/><path fill="rgb(112,157,157)" fill-rule="evenodd" d="M404.5,263.0 407.0,262.6 409.5,262.9 411.5,263.8 415.0,266.1 417.5,268.8 423.1,278.5 425.2,281.5 428.0,284.0 427.2,286.0 429.1,290.0 431.5,297.0 430.0,299.0 427.0,301.9 424.2,304.0 422.0,305.1 417.0,306.5 414.5,306.8 412.0,306.8 404.0,305.7 401.5,304.9 399.5,303.9 399.5,265.0 402.0,263.7 404.5,263.0Z"/><path fill="rgb(103,151,151)" fill-rule="evenodd" d="M405.0,263.9 407.5,263.7 410.0,264.0 412.0,264.9 414.6,266.5 416.8,269.0 422.6,279.0 424.7,282.0 427.0,284.0 426.3,286.0 428.1,289.5 430.4,296.5 428.9,298.5 426.0,301.3 423.5,303.1 421.0,304.3 416.0,305.7 411.5,305.8 404.0,304.7 401.5,303.8 399.5,302.8 399.5,266.5 401.7,265.0 405.0,263.9Z"/><path fill="rgb(94,144,144)" fill-rule="evenodd" d="M405.0,265.0 407.5,264.7 410.0,265.0 412.0,265.8 414.5,267.3 416.2,269.5 423.9,282.0 426.0,284.0 425.4,286.0 427.2,289.5 429.3,296.0 427.5,298.2 425.0,300.6 422.5,302.4 420.5,303.3 416.0,304.6 413.5,304.8 411.0,304.7 404.0,303.7 401.5,302.8 399.5,301.7 399.5,268.0 402.0,266.2 405.0,265.0Z"/><path fill="rgb(85,137,137)" fill-rule="evenodd" d="M407.0,266.0 409.0,266.0 410.5,266.4 414.1,268.0 416.0,270.7 423.0,282.0 425.0,284.0 424.5,286.0 426.5,290.1 428.2,295.5 426.1,298.0 423.5,300.3 421.5,301.7 419.0,302.7 414.5,303.6 410.0,303.6 404.0,302.7 401.5,301.7 399.5,300.6 399.5,269.4 403.0,267.1 405.0,266.3 407.0,266.0Z"/><path fill="rgb(74,128,128)" fill-rule="evenodd" d="M406.0,267.4 408.0,267.2 410.0,267.5 412.0,268.1 413.7,269.0 417.5,274.3 422.5,282.5 424.0,284.0 423.6,286.0 425.9,291.0 427.1,295.0 424.0,298.4 422.0,300.0 420.5,300.8 415.5,302.3 413.0,302.6 410.5,302.7 404.0,301.7 401.5,300.7 399.5,299.4 399.5,270.8 402.5,268.7 406.0,267.4Z"/><path fill="rgb(64,119,120)" fill-rule="evenodd" d="M407.5,268.5 410.5,268.8 412.5,269.5 413.5,270.1 416.8,274.5 421.6,282.5 423.0,284.0 423.1,284.5 422.7,286.0 425.5,292.5 426.1,294.5 424.0,296.7 421.8,298.5 420.0,299.6 417.5,300.5 414.5,301.3 412.0,301.6 406.5,301.2 403.0,300.3 399.5,298.3 399.5,272.1 401.5,270.5 403.5,269.4 405.5,268.8 407.5,268.5Z"/><path fill="rgb(58,109,115)" fill-rule="evenodd" d="M405.5,270.0 407.5,269.7 409.5,269.8 411.5,270.3 413.0,271.0 416.2,275.0 420.8,282.5 422.0,284.0 422.1,284.5 421.8,286.0 424.8,293.5 424.7,294.0 422.0,296.5 419.0,298.5 414.0,300.2 411.5,300.5 409.5,300.5 406.0,300.2 404.0,299.7 401.5,298.5 399.5,297.1 399.5,273.4 402.5,271.2 405.5,270.0Z"/><path fill="rgb(52,98,111)" fill-rule="evenodd" d="M406.5,270.9 409.5,270.9 412.0,271.7 413.0,272.4 415.0,274.6 418.0,279.0 421.0,284.0 421.1,284.5 420.9,286.0 422.1,290.0 423.3,293.0 421.2,295.0 418.5,297.0 416.0,298.2 413.5,299.1 410.0,299.5 405.5,299.1 402.5,298.0 399.5,295.8 399.5,274.8 401.0,273.4 403.0,272.1 404.5,271.4 406.5,270.9Z"/><path fill="rgb(47,86,107)" fill-rule="evenodd" d="M407.0,272.0 409.5,272.1 411.5,272.6 412.5,273.2 414.3,275.0 417.5,279.5 420.0,284.0 420.2,284.5 420.0,286.0 421.5,292.0 419.1,294.5 417.0,296.2 414.3,297.5 411.5,298.3 409.5,298.5 407.0,298.4 404.5,297.9 401.8,296.5 399.5,294.5 399.5,276.4 400.6,275.0 402.6,273.5 405.0,272.4 407.0,272.0Z"/><path fill="rgb(42,73,101)" fill-rule="evenodd" d="M405.0,273.5 406.5,273.1 408.5,273.0 410.5,273.4 412.0,274.0 413.2,275.0 416.5,279.3 417.9,281.5 419.2,284.5 419.1,285.5 419.8,291.0 419.5,291.5 417.9,293.5 416.2,295.0 414.0,296.3 412.0,297.1 409.0,297.5 406.5,297.4 405.0,297.0 402.0,295.5 399.5,293.1 399.5,278.0 402.2,275.0 405.0,273.5Z"/><path fill="rgb(37,59,94)" fill-rule="evenodd" d="M405.5,274.4 408.5,274.1 410.5,274.5 411.7,275.0 414.0,277.4 416.1,280.0 417.3,282.0 418.3,284.5 418.2,290.5 416.8,292.5 415.4,294.0 413.0,295.5 411.0,296.2 407.5,296.5 404.5,295.8 403.0,295.1 401.6,294.0 399.5,291.5 399.5,279.6 401.0,277.6 402.5,276.1 404.0,275.0 405.5,274.4Z"/><path fill="rgb(32,45,88)" fill-rule="evenodd" d="M406.0,275.4 407.5,275.1 409.0,275.2 411.0,275.9 412.0,276.6 415.6,280.5 416.7,282.5 417.4,284.5 417.1,289.5 416.3,291.0 415.0,292.7 413.5,293.9 412.0,294.8 410.0,295.4 406.5,295.4 403.9,294.5 401.4,292.5 399.5,289.6 399.5,281.2 401.0,279.0 402.5,277.5 404.0,276.3 406.0,275.4Z"/><path fill="rgb(29,31,83)" fill-rule="evenodd" d="M406.5,276.5 408.0,276.3 409.5,276.5 411.0,277.1 412.0,277.8 415.0,281.0 415.8,282.5 416.5,284.5 416.4,287.0 416.0,289.0 415.0,290.9 414.0,292.1 412.5,293.3 411.0,294.0 409.5,294.5 407.5,294.5 406.0,294.3 404.5,293.8 403.0,292.8 401.7,291.5 400.7,290.0 400.0,288.5 399.5,286.5 399.6,283.5 400.0,282.0 400.9,280.5 403.5,277.9 405.0,277.0 406.5,276.5Z"/><path fill="rgb(26,26,78)" fill-rule="evenodd" d="M407.5,277.5 410.0,277.8 412.5,279.4 414.5,281.6 415.2,283.0 415.6,284.5 415.2,288.0 414.0,290.5 413.0,291.6 411.5,292.7 410.0,293.3 408.5,293.6 407.0,293.5 405.5,293.2 404.0,292.4 402.9,291.5 401.2,289.0 400.6,287.5 400.3,285.5 400.6,283.0 402.0,280.5 404.5,278.4 406.0,277.7 407.5,277.5Z"/><path fill="rgb(20,20,61)" fill-rule="evenodd" d="M407.5,278.5 410.0,278.8 412.5,280.4 414.0,282.3 414.7,284.5 414.4,287.5 413.1,290.0 411.0,291.8 408.5,292.6 406.0,292.3 404.5,291.6 403.5,290.8 401.9,288.5 401.1,285.5 401.4,283.0 402.7,281.0 405.0,279.2 407.5,278.5Z"/><path fill="rgb(15,15,44)" fill-rule="evenodd" d="M407.0,279.5 409.5,279.7 411.5,280.6 413.2,282.5 413.8,284.5 413.6,287.0 412.5,289.2 410.5,291.0 408.5,291.6 406.5,291.5 404.5,290.4 402.9,288.5 402.0,286.0 402.0,284.0 403.0,281.9 404.5,280.5 407.0,279.5Z"/><path fill="rgb(12,12,33)" fill-rule="evenodd" d="M406.5,280.5 408.5,280.3 410.5,280.9 412.0,282.2 412.9,284.0 412.9,286.0 412.2,288.0 411.0,289.5 409.0,290.6 407.0,290.6 405.5,290.0 403.9,288.5 403.0,286.5 402.8,284.5 403.3,283.0 404.5,281.5 406.5,280.5Z"/><path fill="rgb(9,9,23)" fill-rule="evenodd" d="M406.0,281.5 407.5,281.1 409.5,281.4 411.0,282.3 411.8,283.5 412.1,285.0 411.7,287.0 410.7,288.5 409.5,289.4 408.0,289.7 406.5,289.5 405.1,288.5 404.1,287.0 403.7,285.5 403.8,284.0 404.6,282.5 406.0,281.5Z"/><path fill="rgb(7,7,17)" fill-rule="evenodd" d="M407.0,282.0 408.5,281.9 410.0,282.5 410.9,283.5 411.3,284.5 411.2,286.0 410.5,287.4 409.5,288.3 408.5,288.7 407.0,288.6 406.0,288.1 405.0,287.0 404.6,286.0 404.5,284.5 404.9,283.5 405.8,282.5 407.0,282.0Z"/><path fill="rgb(5,5,11)" fill-rule="evenodd" d="M407.0,282.8 408.0,282.6 409.0,282.9 409.9,283.5 410.4,284.5 410.4,285.5 410.0,286.5 409.5,287.2 408.5,287.7 407.5,287.8 406.8,287.5 406.0,286.8 405.5,286.0 405.4,285.0 405.6,284.0 406.0,283.4 407.0,282.8Z"/><path fill="rgb(3,3,6)" fill-rule="evenodd" d="M407.5,283.4 408.5,283.5 409.2,284.0 409.5,284.5 409.3,286.0 408.8,286.5 408.0,286.8 407.0,286.5 406.5,286.0 406.2,285.0 406.5,284.0 407.5,283.4Z"/><path fill="rgb(1,1,2)" fill-rule="evenodd" d="M407.5,284.3 408.0,284.2 408.6,284.5 408.7,285.0 408.6,285.5 408.0,285.9 407.5,285.7 407.1,285.0 407.5,284.3Z"/></g>
<line x1="470.25" y1="197.5" x2="470.25" y2="326.5" stroke="rgba(38,38,38,0.07)" stroke-width="1"/>
<line x1="538.00" y1="197.5" x2="538.00" y2="326.5" stroke="rgba(38,38,38,0.07)" stroke-width="1"/>
<line x1="605.75" y1="197.5" x2="605.75" y2="326.5" stroke="rgba(38,38,38,0.07)" stroke-width="1"/>
<line x1="402.5" y1="283.50" x2="673.5" y2="283.50" stroke="rgba(38,38,38,0.07)" stroke-width="1"/>
<line x1="402.5" y1="240.50" x2="673.5" y2="240.50" stroke="rgba(38,38,38,0.07)" stroke-width="1"/>
<path d="M402.0,197.5H674.0M402.0,326.5H674.0" stroke="#262626" stroke-opacity="0.44" stroke-width="1" fill="none"/>
<path d="M402.5,198.0V326.0M673.5,198.0V326.0" stroke="#262626" stroke-opacity="0.32" stroke-width="1" fill="none"/>
<path d="M403.5,198.0V326.0M674.5,198.0V326.0" stroke="#000" stroke-opacity="0.08" stroke-width="1" fill="none"/>
<path d="M402.50,326.5v-2.7M402.50,197.5v2.7M470.25,326.5v-2.7M470.25,197.5v2.7M538.00,326.5v-2.7M538.00,197.5v2.7M605.75,326.5v-2.7M605.75,197.5v2.7M673.50,326.5v-2.7M673.50,197.5v2.7M402.5,326.50h2.7M673.5,326.50h-2.7M402.5,283.50h2.7M673.5,283.50h-2.7M402.5,240.50h2.7M673.5,240.50h-2.7M402.5,197.50h2.7M673.5,197.50h-2.7" stroke="#262626" stroke-opacity="0.44" stroke-width="1" fill="none"/>
<text x="402.50" y="344.70" text-anchor="middle">0</text>
<text x="470.25" y="344.70" text-anchor="middle">50</text>
<text x="538.00" y="344.70" text-anchor="middle">100</text>
<text x="605.75" y="344.70" text-anchor="middle">150</text>
<text x="673.50" y="344.70" text-anchor="middle">200</text>
<text x="397.90" y="332.40" text-anchor="end">0</text>
<text x="397.90" y="289.40" text-anchor="end">1</text>
<text x="397.90" y="246.40" text-anchor="end">2</text>
<text x="397.90" y="203.40" text-anchor="end">3</text>
<text x="657.3" y="316.2" text-anchor="middle" fill="#000" font-size="15">(d)</text>
<g transform="translate(0,172.8)"><g transform="translate(176.25,0)"><path d="M0.35,-4.9C0.5,-6.2 1.4,-6.9 2.7,-7.0L8.0,-7.55" stroke="#262626" stroke-width="1.1" fill="none" stroke-linecap="round"/><path d="M4.2,-7.0L5.55,-7.2C5.0,-4.7 4.0,-1.9 3.2,0.05L2.35,0.05C3.0,-2.0 3.7,-4.6 4.2,-7.0Z" fill="#262626"/></g></g>
<g transform="translate(0,366.2)"><g transform="translate(176.45,0)"><path d="M0.35,-4.9C0.5,-6.2 1.4,-6.9 2.7,-7.0L8.0,-7.55" stroke="#262626" stroke-width="1.1" fill="none" stroke-linecap="round"/><path d="M4.2,-7.0L5.55,-7.2C5.0,-4.7 4.0,-1.9 3.2,0.05L2.35,0.05C3.0,-2.0 3.7,-4.6 4.2,-7.0Z" fill="#262626"/></g></g>
<g transform="translate(0,366.2)"><g transform="translate(534.45,0)"><path d="M0.35,-4.9C0.5,-6.2 1.4,-6.9 2.7,-7.0L8.0,-7.55" stroke="#262626" stroke-width="1.1" fill="none" stroke-linecap="round"/><path d="M4.2,-7.0L5.55,-7.2C5.0,-4.7 4.0,-1.9 3.2,0.05L2.35,0.05C3.0,-2.0 3.7,-4.6 4.2,-7.0Z" fill="#262626"/></g></g>
<g transform="translate(0,172.5)"><text x="523.35" y="0" font-family="Liberation Serif" font-style="italic" font-size="17" fill="#262626">θ</text><path d="M536.95,-12.80Q527.95,-4.70 536.95,3.40L537.40,3.15Q530.95,-4.70 537.40,-12.55Z" fill="#262626"/><g transform="translate(538.95,0)"><path d="M0.35,-4.9C0.5,-6.2 1.4,-6.9 2.7,-7.0L8.0,-7.55" stroke="#262626" stroke-width="1.1" fill="none" stroke-linecap="round"/><path d="M4.2,-7.0L5.55,-7.2C5.0,-4.7 4.0,-1.9 3.2,0.05L2.35,0.05C3.0,-2.0 3.7,-4.6 4.2,-7.0Z" fill="#262626"/></g><path d="M547.70,-12.80Q556.70,-4.70 547.70,3.40L547.25,3.15Q553.70,-4.70 547.25,-12.55Z" fill="#262626"/></g>
<g transform="translate(11.6,0) rotate(-90)"><text x="-82.70" y="0" font-family="Liberation Serif" font-style="italic" font-size="17" fill="#262626">u</text><path d="M-67.20,-10.90Q-77.60,-3.95 -67.20,3.00L-66.75,2.75Q-74.60,-3.95 -66.75,-10.65Z" fill="#262626"/><g transform="translate(-66.65,0)"><path d="M0.35,-4.9C0.5,-6.2 1.4,-6.9 2.7,-7.0L8.0,-7.55" stroke="#262626" stroke-width="1.1" fill="none" stroke-linecap="round"/><path d="M4.2,-7.0L5.55,-7.2C5.0,-4.7 4.0,-1.9 3.2,0.05L2.35,0.05C3.0,-2.0 3.7,-4.6 4.2,-7.0Z" fill="#262626"/></g><path d="M-61.50,-10.90Q-51.10,-3.95 -61.50,3.00L-61.95,2.75Q-54.10,-3.95 -61.95,-10.65Z" fill="#262626"/></g>
<g transform="translate(372.5,0) rotate(-90)"><g transform="translate(-79.15,0) scale(1.4,1)"><text x="-3.50" y="0" font-family="Liberation Serif" font-style="italic" font-size="17" fill="#262626">f</text></g><path d="M-69.85,-12.30Q-80.65,-4.30 -69.85,3.70L-69.40,3.45Q-77.65,-4.30 -69.40,-12.05Z" fill="#262626"/><g transform="translate(-65.45,0) scale(1.12,1)"><text x="-4.50" y="0" font-family="Liberation Serif" font-style="italic" font-size="17" fill="#262626">θ</text></g><path d="M-63.05,-12.30Q-52.25,-4.30 -63.05,3.70L-63.50,3.45Q-55.25,-4.30 -63.50,-12.05Z" fill="#262626"/></g>
<g transform="translate(23.1,0) rotate(-90)"><text x="-276.15" y="0" font-family="Liberation Serif" font-style="italic" font-size="17" fill="#262626">θ</text><path d="M-262.20,-12.40Q-270.20,-4.60 -262.20,3.20L-261.75,2.95Q-267.20,-4.60 -261.75,-12.15Z" fill="#262626"/><g transform="translate(-261.60,0)"><path d="M0.35,-4.9C0.5,-6.2 1.4,-6.9 2.7,-7.0L8.0,-7.55" stroke="#262626" stroke-width="1.1" fill="none" stroke-linecap="round"/><path d="M4.2,-7.0L5.55,-7.2C5.0,-4.7 4.0,-1.9 3.2,0.05L2.35,0.05C3.0,-2.0 3.7,-4.6 4.2,-7.0Z" fill="#262626"/></g><path d="M-253.40,-12.40Q-245.40,-4.60 -253.40,3.20L-253.85,2.95Q-248.40,-4.60 -253.85,-12.15Z" fill="#262626"/></g>
<text transform="translate(385.2,261.75) rotate(-90)" text-anchor="middle" font-size="14.67">Frequency (rad/s)</text>
<path fill="#fff" d="M169.02,150.57h3.13v2.00h-3.13ZM173.48,150.57h2.73v2.00h-2.73ZM236.77,150.57h3.13v2.00h-3.13ZM241.23,150.57h2.73v2.00h-2.73ZM32.62,100.09h3.13v2.00h-3.13ZM37.09,100.09h2.73v2.00h-2.73ZM32.62,47.44h3.13v2.00h-3.13ZM37.09,47.44h2.73v2.00h-2.73ZM468.90,150.57h3.13v2.00h-3.13ZM473.36,150.57h2.73v2.00h-2.73ZM602.18,150.57h3.13v2.00h-3.13ZM606.64,150.57h2.73v2.00h-2.73ZM383.21,138.27h3.13v2.00h-3.13ZM387.68,138.27h2.73v2.00h-2.73ZM383.21,9.27h3.13v2.00h-3.13ZM387.68,9.27h2.73v2.00h-2.73ZM169.02,343.57h3.13v2.00h-3.13ZM173.48,343.57h2.73v2.00h-2.73ZM236.77,343.57h3.13v2.00h-3.13ZM241.23,343.57h2.73v2.00h-2.73ZM32.62,299.02h3.13v2.00h-3.13ZM37.09,299.02h2.73v2.00h-2.73ZM32.62,234.52h3.13v2.00h-3.13ZM37.09,234.52h2.73v2.00h-2.73ZM527.02,343.57h3.13v2.00h-3.13ZM531.48,343.57h2.73v2.00h-2.73ZM594.77,343.57h3.13v2.00h-3.13ZM599.23,343.57h2.73v2.00h-2.73ZM390.62,288.27h3.13v2.00h-3.13ZM395.09,288.27h2.73v2.00h-2.73Z"/>
</g>
</svg>
</body></html>
